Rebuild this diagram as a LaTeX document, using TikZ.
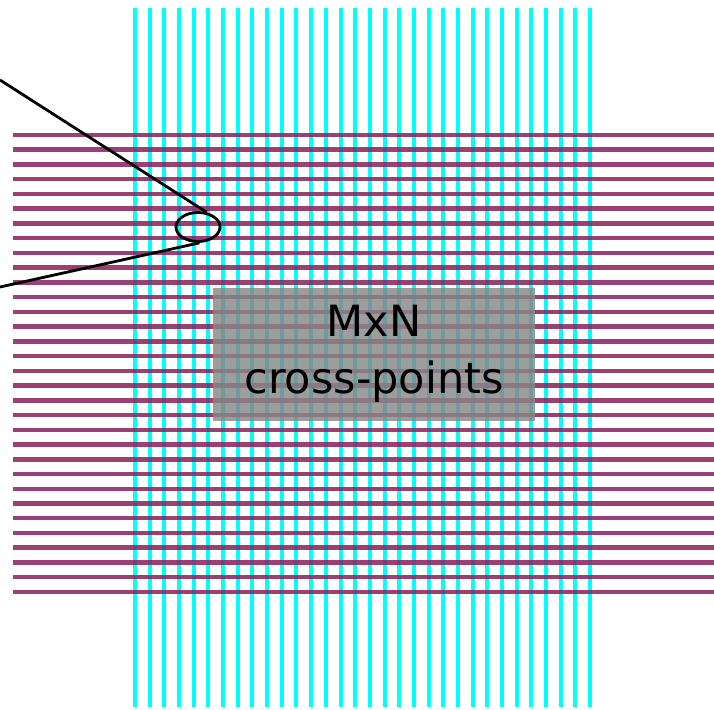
\documentclass[tikz,border=0pt]{standalone}
\usepackage{fontspec}
\setmainfont{DejaVu Sans}
\usetikzlibrary{shapes.geometric}
\definecolor{wire}{RGB}{0,255,255}
\definecolor{bar}{RGB}{140,38,98}
\definecolor{boxgray}{RGB}{135,135,135}
\begin{document}
\begin{tikzpicture}[x=1pt,y=-1pt,
  vline/.style={wire,line width=4pt},
  hline/.style={bar,line width=4.5pt,opacity=0.88},
  pointer/.style={black,line width=2.8pt},
  labelbox/.style={fill=boxgray,fill opacity=0.82,text opacity=1,inner sep=0pt,
    minimum width=322pt,minimum height=133pt,align=center,
    font=\fontsize{43}{57}\selectfont},
  spotring/.style={draw=black,ellipse,line width=2.8pt,inner sep=0pt,
    minimum width=44pt,minimum height=29pt}]
\useasboundingbox (0,0) rectangle (714,709);
\foreach \i in {0,...,31} {
  \draw[vline] ({135+\i*14.68},8) -- ({135+\i*14.68},707);
}
\foreach \i in {0,...,31} {
  \draw[hline] (13,{135+\i*14.74}) -- (714,{135+\i*14.74});
}
\node[labelbox] (lbl) at (374,354) {MxN\\cross-points};
\node[spotring] (spot) at (198,227) {};
\coordinate (a) at (0,80);
\coordinate (b) at (0,287);
\draw[pointer] (a) -- (spot.60);
\draw[pointer] (b) -- (spot.-85);
\end{tikzpicture}
\end{document}
